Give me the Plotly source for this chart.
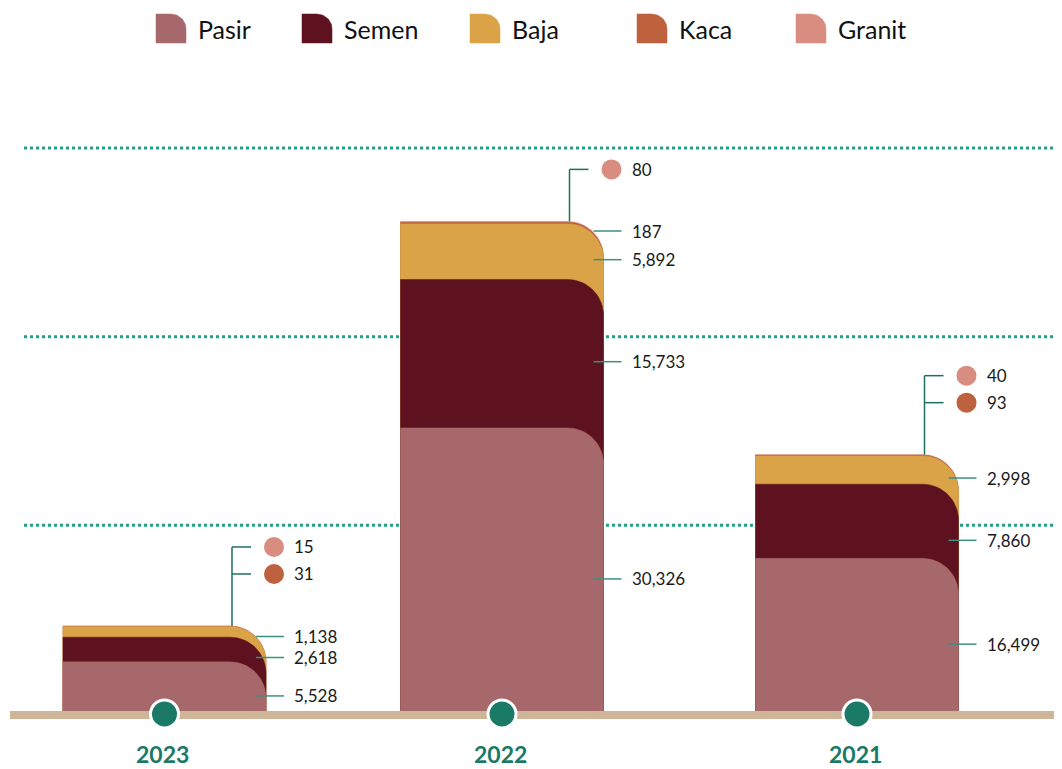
import math
import plotly.graph_objects as go

# ── Data ───────────────────────────────────────────────────────────────────────
YEARS = ["2023", "2022", "2021"]
MATERIALS = ["Pasir", "Semen", "Baja", "Kaca", "Granit"]   # bottom -> top
PASIR = [5528, 30326, 16499]
SEMEN = [2618, 15733, 7860]
BAJA = [1138, 5892, 2998]
KACA = [31, 187, 93]
GRANIT = [15, 80, 40]
GRID_VALUES = [20000, 40000, 60000]

# ── Style ──────────────────────────────────────────────────────────────────────
COLORS = {
    "Pasir": "#A6686A",
    "Semen": "#5E111E",
    "Baja": "#DBA347",
    "Kaca": "#BD623C",
    "Granit": "#D98C80",
}
TEAL = "#1A7A66"
GRID_COLOR = "#26A088"
LEADER = "#3F8F7F"
BRACKET = "#1F6F5F"
BASE_COLOR = "#CEB597"
TEXT = "#1A1A1A"
FONT = "Lato"

PAGE_W, PAGE_H = 1062, 769
OFF = 8                       # body margin of the html page
W, H = PAGE_W - OFF, PAGE_H - OFF
BASE_PX = 714                 # screen row of value 0
S = 106.0                     # value units per pixel
BAR_CENTERS = [164.5, 502, 857]
BAR_W = 203
RADIUS = 36
LEGEND_X = [156, 302, 470, 637, 796]
SMALL = 100                   # values below this get a dot label above the bar
LABEL_DROP = 8                # labels sit a little below the segment middle


def val(py):
    """screen row -> y value"""
    return (BASE_PX - py) * S


def px(v):
    """y value -> screen row"""
    return BASE_PX - v / S


def rounded_top_right(x0, x1, y_bot, y_top, r_px, n=18):
    rx = min(r_px, x1 - x0)
    ry = min(r_px * S, y_top - y_bot)
    cx, cy = x1 - rx, y_top - ry
    xs, ys = [x0, x0, cx], [y_bot, y_top, y_top]
    for i in range(1, n + 1):
        t = math.pi / 2 * (1 - i / n)
        xs.append(cx + rx * math.cos(t))
        ys.append(cy + ry * math.sin(t))
    xs += [x1, x0]
    ys += [y_bot, y_bot]
    return xs, ys


series = {"Pasir": PASIR, "Semen": SEMEN, "Baja": BAJA, "Kaca": KACA, "Granit": GRANIT}

fig = go.Figure()
shapes = []
annotations = []

# gridlines
for g in GRID_VALUES:
    shapes.append(dict(type="line", xref="x", yref="y", x0=24, x1=PAGE_W, y0=g, y1=g,
                       line=dict(color=GRID_COLOR, width=3, dash="dot"), layer="below"))

for i, year in enumerate(YEARS):
    x0 = BAR_CENTERS[i] - BAR_W / 2
    x1 = BAR_CENTERS[i] + BAR_W / 2
    vals = [series[m][i] for m in MATERIALS]
    cum = []
    run = 0
    for v in vals:
        run += v
        cum.append(run)
    total = cum[-1]

    # each layer drawn from the baseline, back to front
    for k in reversed(range(len(MATERIALS))):
        xs, ys = rounded_top_right(x0, x1, 0, cum[k], RADIUS)
        c = COLORS[MATERIALS[k]]
        fig.add_trace(go.Scatter(x=xs, y=ys, fill="toself", fillcolor=c, mode="lines",
                                 line=dict(color=c, width=0.5), hoverinfo="skip",
                                 showlegend=False))

    # labels on the right for the larger values
    prev_px = None
    for k, m in enumerate(MATERIALS):
        v = vals[k]
        if v < SMALL:
            continue
        mid = cum[k] - v / 2
        lab_px = px(mid) + LABEL_DROP
        if prev_px is not None and lab_px > prev_px - 21:
            lab_px = prev_px - 21
        for g in GRID_VALUES:          # keep labels off the dotted gridlines
            if abs(lab_px - px(g)) < 12:
                lab_px = px(g) + 15
        prev_px = lab_px
        ly = val(lab_px)
        shapes.append(dict(type="line", xref="x", yref="y", x0=x1 - 10, x1=x1 + 18,
                           y0=ly, y1=ly, line=dict(color=LEADER, width=1.5)))
        annotations.append(dict(x=x1 + 26, y=ly, xref="x", yref="y", text=f"{v:,}",
                                showarrow=False, xanchor="left", yanchor="middle",
                                font=dict(family=FONT, size=17, color=TEXT)))

    # dot labels above the bar for the tiny values (top row first = Granit)
    small = [(m, series[m][i]) for m in MATERIALS if series[m][i] < SMALL]
    rows = []
    for j, (m, v) in enumerate(small):
        rows.append((m, v, total + (52 + 27 * j) * S))
    if rows:
        bx = x1 - 34
        shapes.append(dict(type="line", xref="x", yref="y", x0=bx, x1=bx,
                           y0=total, y1=rows[-1][2], line=dict(color=BRACKET, width=1.5)))
        for m, v, ry in rows:
            shapes.append(dict(type="line", xref="x", yref="y", x0=bx, x1=x1 - 15,
                               y0=ry, y1=ry, line=dict(color=BRACKET, width=1.5)))
            fig.add_trace(go.Scatter(x=[x1 + 8], y=[ry], mode="markers",
                                     marker=dict(size=20, color=COLORS[m]),
                                     hoverinfo="skip", showlegend=False))
            annotations.append(dict(x=x1 + 26, y=ry, xref="x", yref="y", text=f"{v:,}",
                                    showarrow=False, xanchor="left", yanchor="middle",
                                    font=dict(family=FONT, size=17, color=TEXT)))

    # year label
    annotations.append(dict(x=BAR_CENTERS[i] - 2, y=val(754), xref="x", yref="y",
                            text=f"<b>{year}</b>", showarrow=False, borderpad=0,
                            xanchor="center", yanchor="middle",
                            font=dict(family=FONT, size=23, color=TEAL)))

# baseline and markers
fig.add_trace(go.Scatter(x=[10, PAGE_W], y=[val(715), val(715)], mode="lines",
                         line=dict(color=BASE_COLOR, width=8), hoverinfo="skip",
                         showlegend=False))
fig.add_trace(go.Scatter(x=BAR_CENTERS, y=[val(714)] * len(YEARS), mode="markers",
                         marker=dict(size=28, color=TEAL, line=dict(color="white", width=3)),
                         hoverinfo="skip", showlegend=False))

# custom legend
for lx, m in zip(LEGEND_X, MATERIALS):
    xs, ys = rounded_top_right(lx, lx + 30, val(43), val(14), 15)
    fig.add_trace(go.Scatter(x=xs, y=ys, fill="toself", fillcolor=COLORS[m], mode="lines",
                             line=dict(color=COLORS[m], width=0.5), hoverinfo="skip",
                             showlegend=False))
    annotations.append(dict(x=lx + 40, y=val(29), xref="x", yref="y", text=m,
                            showarrow=False, xanchor="left", yanchor="middle",
                            font=dict(family=FONT, size=25, color="#111111")))

fig.update_layout(
    width=W, height=H, autosize=False,
    margin=dict(l=0, r=0, t=0, b=0, pad=0),
    paper_bgcolor="white", plot_bgcolor="white",
    xaxis=dict(range=[OFF, PAGE_W], visible=False, fixedrange=True),
    yaxis=dict(range=[val(PAGE_H), val(OFF)], visible=False, fixedrange=True),
    shapes=shapes, annotations=annotations,
    showlegend=False,
)

fig.write_html("out.html")
